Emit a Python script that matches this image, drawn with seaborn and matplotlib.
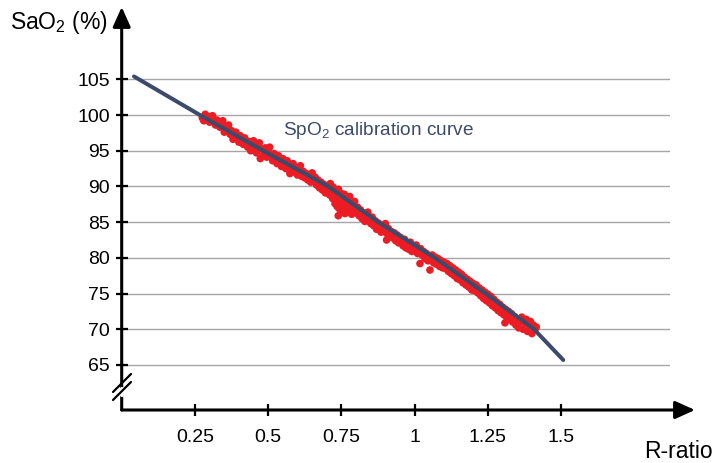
import matplotlib
matplotlib.use("Agg")
import matplotlib.pyplot as plt
import seaborn as sns
import pandas as pd

# ---- data ----
curve_r = [0.042, 0.267, 0.483, 0.705, 0.876, 1.069, 1.246, 1.405, 1.507]
curve_sao2 = [105.4, 100.0, 95.0, 90.0, 85.0, 80.0, 74.9, 70.1, 65.7]

pts_r = [0.275, 0.28, 0.285, 0.29, 0.295, 0.30, 0.305, 0.31, 0.315, 0.32, 0.325, 0.33, 0.335, 0.34, 0.345, 0.35, 0.355, 0.36, 0.365, 0.37,
         0.375, 0.38, 0.385, 0.39, 0.395, 0.40, 0.405, 0.41, 0.415, 0.42, 0.425, 0.43, 0.435, 0.44, 0.445, 0.45, 0.455, 0.46, 0.465, 0.47, 0.473, 0.48, 0.485, 0.49, 0.495, 0.50, 0.505,
         0.51, 0.515, 0.52, 0.525, 0.53, 0.535, 0.54, 0.545, 0.55, 0.555, 0.56, 0.565, 0.57, 0.574, 0.58, 0.585, 0.59, 0.595, 0.60, 0.605, 0.61, 0.615, 0.62, 0.625, 0.63, 0.635, 0.64, 0.645, 0.65, 0.655, 0.66, 0.665, 0.67, 0.675, 0.68, 0.685, 0.69, 0.695, 0.70,
         0.705, 0.71, 0.712, 0.715, 0.72, 0.722, 0.725, 0.728, 0.73, 0.733, 0.735, 0.738, 0.74, 0.742, 0.739, 0.745, 0.748, 0.75, 0.752, 0.755, 0.758, 0.76, 0.762, 0.765, 0.768, 0.77, 0.772, 0.775, 0.778, 0.78, 0.783, 0.785, 0.788, 0.79, 0.795, 0.80, 0.805, 0.81, 0.815, 0.82,
         0.825, 0.83, 0.835, 0.84, 0.845, 0.85, 0.855, 0.86, 0.865, 0.87, 0.875, 0.88, 0.885, 0.89, 0.895, 0.904, 0.90, 0.905, 0.91, 0.915, 0.92, 0.925, 0.93, 0.935, 0.94, 0.945, 0.95, 0.955, 0.96, 0.965, 0.97, 0.975, 0.98, 0.985, 0.99, 0.995, 1.00,
         1.005, 1.01, 1.018, 1.02, 1.025, 1.03, 1.035, 1.04, 1.045, 1.052, 1.05, 1.055, 1.06, 1.065, 1.07, 1.075, 1.08, 1.085, 1.09, 1.095, 1.10, 1.105, 1.11, 1.115, 1.12, 1.125, 1.13, 1.135, 1.14, 1.145, 1.15, 1.155, 1.16, 1.165, 1.17, 1.175, 1.18, 1.185, 1.19, 1.195, 1.20,
         1.205, 1.21, 1.215, 1.22, 1.225, 1.23, 1.235, 1.24, 1.245, 1.25, 1.255, 1.26, 1.265, 1.27, 1.275, 1.28, 1.285, 1.29, 1.295, 1.30, 1.305, 1.308, 1.31, 1.315, 1.32, 1.325, 1.33, 1.335, 1.34, 1.345, 1.35, 1.355, 1.36, 1.365, 1.37, 1.375, 1.38, 1.385, 1.39, 1.395, 1.40, 1.405, 1.41, 1.415]
pts_sao2 = [99.6, 99.2, 100.1, 99.4, 99.8, 99.0, 99.5, 99.9, 99.1, 98.6, 99.3, 98.9, 98.3, 98.8, 99.2, 97.6, 98.4, 97.9, 98.6, 97.3,
            97.8, 96.6, 97.2, 97.6, 96.9, 96.2, 97.1, 96.5, 95.9, 96.8, 96.1, 95.5, 96.3, 95.0, 95.8, 96.4, 95.3, 94.7, 95.6, 96.1, 93.9, 95.2, 94.5, 95.4, 94.1, 94.9, 95.5,
            94.2, 93.6, 94.6, 93.9, 93.2, 94.3, 93.5, 92.8, 93.9, 93.1, 92.5, 93.6, 92.9, 91.8, 92.4, 93.2, 92.0, 92.7, 91.6, 92.3, 92.9, 91.4, 92.1, 91.2, 91.8, 90.9, 91.5, 90.6, 91.9, 90.8, 91.3, 90.2, 90.9, 89.8, 90.6, 89.5, 90.3, 89.1, 90.0,
            89.6, 88.8, 90.4, 89.2, 88.3, 89.9, 88.9, 87.6, 89.4, 88.1, 87.2, 88.7, 89.6, 86.9, 85.9, 88.2, 87.5, 89.0, 86.6, 88.4, 87.1, 88.9, 86.2, 87.8, 87.0, 88.3, 86.5, 87.4, 88.6, 86.9, 87.7, 86.1, 87.2, 86.6, 87.9, 86.3, 87.1, 85.9, 86.7, 85.5,
            86.3, 85.1, 85.9, 86.4, 85.3, 84.8, 85.7, 84.5, 85.2, 84.0, 84.9, 84.3, 83.6, 84.6, 83.9, 82.5, 84.8, 83.4, 84.1, 83.0, 83.7, 82.8, 83.5, 82.4, 83.2, 82.1, 82.9, 82.3, 81.7, 82.6, 81.4, 82.0, 81.2, 82.2, 80.9, 81.6, 81.0,
            81.8, 80.6, 79.2, 81.3, 80.4, 80.9, 79.9, 80.6, 79.6, 78.3, 80.2, 79.6, 80.4, 79.3, 80.1, 79.1, 79.9, 78.8, 79.6, 78.6, 79.4, 78.5, 79.2, 78.1, 78.9, 77.8, 78.6, 77.5, 78.3, 77.1, 78.0, 76.9, 77.7, 76.5, 77.3, 76.2, 77.0, 75.9, 76.7, 75.5, 76.4,
            75.4, 76.2, 75.1, 75.8, 74.7, 75.5, 74.3, 75.2, 74.0, 74.9, 73.7, 74.6, 73.3, 74.2, 73.0, 73.8, 72.6, 73.5, 72.3, 73.1, 72.0, 70.9, 72.8, 71.6, 72.5, 71.3, 72.2, 71.0, 71.8, 70.6, 71.4, 70.2, 71.1, 71.7, 70.0, 70.9, 71.4, 69.7, 70.6, 71.1, 69.4, 70.6, 69.9, 70.3]

x_ticks = [0.25, 0.5, 0.75, 1, 1.25, 1.5]
x_tick_labels = ["0.25", "0.5", "0.75", "1", "1.25", "1.5"]
y_ticks = [65, 70, 75, 80, 85, 90, 95, 100, 105]

# ---- styling ----
sns.set_theme(style="white")
plt.rcParams["font.family"] = ["Liberation Sans", "DejaVu Sans"]
plt.rcParams["mathtext.default"] = "regular"

W, H = 716, 463
fig = plt.figure(figsize=(W / 100, H / 100), dpi=100)
ax_left, ax_right, ax_bottom, ax_top = 121.7, 670.0, 410.0, 15.0
ax = fig.add_axes([ax_left / W, 1 - ax_bottom / H, (ax_right - ax_left) / W, (ax_bottom - ax_top) / H])

x_max = (ax_right - ax_left) / 293.0
y_min = 65 - (ax_bottom - 365.0) / 7.14
y_max = 105 + (79.3 - ax_top) / 7.14
ax.set_xlim(0, x_max)
ax.set_ylim(y_min, y_max)

# gridlines
for yv in y_ticks:
    ax.axhline(yv, color="#a6a6a6", lw=1.0, zorder=0)

pts = pd.DataFrame({"R": pts_r, "SaO2": pts_sao2})
curve = pd.DataFrame({"R": curve_r, "SaO2": curve_sao2})
sns.scatterplot(data=pts, x="R", y="SaO2", ax=ax, color="#ec1c24", s=30,
                linewidth=0, edgecolor="none", zorder=2)
sns.lineplot(data=curve, x="R", y="SaO2", ax=ax, color="#3c4b6b", lw=2.9,
             zorder=3, sort=False, estimator=None)

for s in ax.spines.values():
    s.set_visible(False)

# axes arrows
arrow_kw = dict(arrowstyle="-|>,head_length=1.0,head_width=0.45", color="black", lw=2.2,
                shrinkA=0, shrinkB=0)
ax.annotate("", xy=((695 - ax_left) / (ax_right - ax_left), 0), xytext=(0, 0),
            xycoords="axes fraction", textcoords="axes fraction",
            arrowprops=arrow_kw, annotation_clip=False)
ax.annotate("", xy=(0, (ax_bottom - 7) / (ax_bottom - ax_top)), xytext=(0, 0),
            xycoords="axes fraction", textcoords="axes fraction",
            arrowprops=arrow_kw, annotation_clip=False)

# axis break marks
def px_to_axes(px, py):
    return ((px - ax_left) / (ax_right - ax_left), (ax_bottom - py) / (ax_bottom - ax_top))

for dy in (0, 8):
    x0, y0 = px_to_axes(113, 400 - dy)
    x1, y1 = px_to_axes(131, 382 - dy)
    ax.plot([x0, x1], [y0, y1], transform=ax.transAxes, color="black", lw=1.6,
            clip_on=False, zorder=5)
gx0, _ = px_to_axes(121.7, 392)
ax.plot([gx0, gx0], [px_to_axes(0, 395)[1], px_to_axes(0, 389)[1]], transform=ax.transAxes,
        color="white", lw=3, clip_on=False, zorder=4)

ax.set_xticks(x_ticks)
ax.set_xticklabels(x_tick_labels)
ax.set_yticks(y_ticks)
ax.set_yticklabels([str(v) for v in y_ticks])
ax.tick_params(axis="both", direction="inout", length=9, width=1.6, color="black",
               labelsize=14, labelcolor="black")
ax.tick_params(axis="x", pad=9)
ax.tick_params(axis="y", pad=4)
ax.tick_params(bottom=True, left=True)
ax.set_xlabel("")
ax.set_ylabel("")

fig.text(10 / W, 1 - 22 / H, "SaO$_2$ (%)", fontsize=16.5, ha="left", va="center", color="black")
fig.text(713 / W, 1 - 452 / H, "R-ratio", fontsize=16.5, ha="right", va="center", color="black")
ax.text(0.55, 97.9, "SpO$_2$ calibration curve", fontsize=13.7, color="#3c4b6b",
        ha="left", va="center")

fig.savefig("out.png", dpi=100)
